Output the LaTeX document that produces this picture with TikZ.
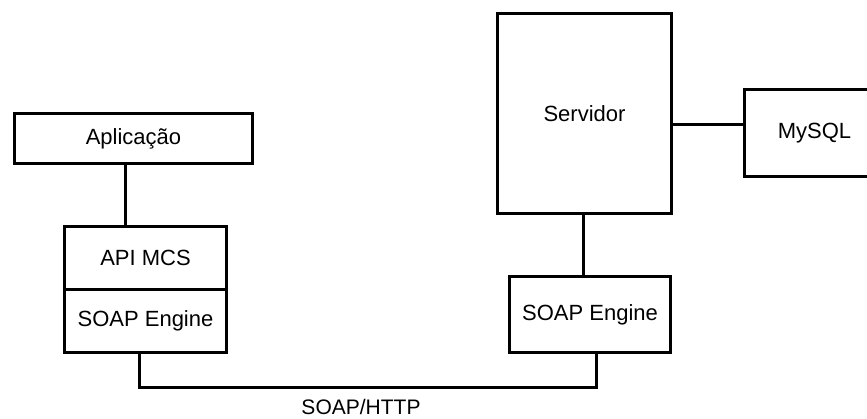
\documentclass[tikz,border=0pt]{standalone}
\usepackage{fontspec}
\setmainfont{Liberation Sans}
\begin{document}
\begin{tikzpicture}[x=1pt,y=-1pt,
  box/.style={draw,line width=3pt,rectangle,inner sep=0pt,anchor=north west,font=\fontsize{22}{25}\selectfont},
  conn/.style={line width=3pt}]
\clip (0,0) rectangle (867,419);
\useasboundingbox (0,0) rectangle (867,419);
\node[box,minimum width=238pt,minimum height=50pt] (app) at (13,112) {Aplicação};
\node[box,minimum width=162pt,minimum height=63pt] (api) at (63,225) {API MCS};
\node[box,minimum width=162pt,minimum height=63pt] (soapL) at (63,288) {SOAP Engine};
\node[box,minimum width=174pt,minimum height=200pt] (serv) at (496,12) {Servidor};
\node[box,minimum width=140pt,minimum height=87pt] (mysql) at (743,88) {MySQL};
\node[box,minimum width=161pt,minimum height=76pt] (soapR) at (508,275) {SOAP Engine};
\node[font=\fontsize{21}{24}\selectfont,inner sep=0pt,anchor=base] (lbl) at (361,414) {SOAP/HTTP};
\coordinate (cA) at (125,0);
\coordinate (cB) at (0,125);
\coordinate (cC) at (583,0);
\coordinate (cL) at (139,387);
\coordinate (cR) at (596,387);
\draw[conn] (app.south -| cA) -- (api.north -| cA);
\draw[conn] (serv.east |- cB) -- (mysql.west |- cB);
\draw[conn] (serv.south -| cC) -- (soapR.north -| cC);
\draw[conn,line join=miter] (soapL.south -| cL) -- (cL) -- (cR) -- (soapR.south -| cR);
\end{tikzpicture}
\end{document}
